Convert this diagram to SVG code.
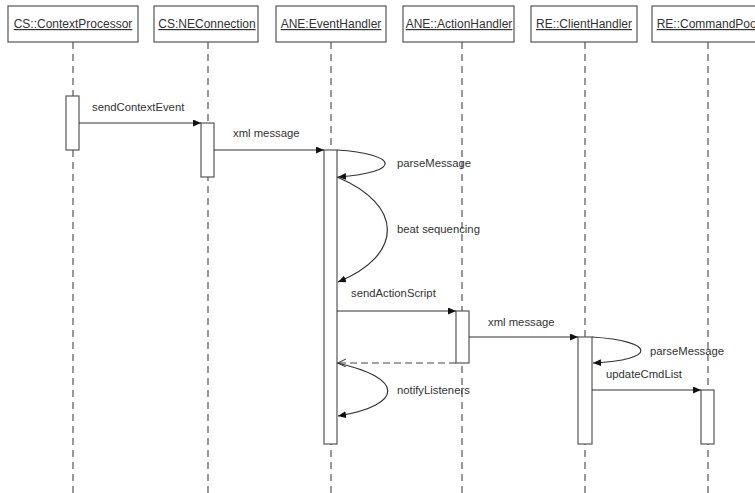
<svg xmlns="http://www.w3.org/2000/svg" width="755" height="493" viewBox="0 0 755 493">
  <style>
    .head rect { fill: #fff; stroke: #555; stroke-width: 1.2; }
    .head text { font-family: "Liberation Sans", Arial, sans-serif; font-size: 12px; fill: #333; text-anchor: middle; text-decoration: underline; }
    .life { stroke: #555; stroke-width: 1.2; stroke-dasharray: 7 5; fill: none; }
    .act { fill: #fff; stroke: #444; stroke-width: 1.2; }
    .msg { stroke: #333; stroke-width: 1.2; fill: none; }
    .ret { stroke: #444; stroke-width: 1.2; fill: none; stroke-dasharray: 7 4; }
    .lbl { font-family: "Liberation Sans", Arial, sans-serif; font-size: 11.3px; fill: #333; }
  </style>
  <defs>
    <marker id="filled" markerWidth="9" markerHeight="8" refX="8" refY="3.5" orient="auto" markerUnits="userSpaceOnUse">
      <path d="M0,0 L8,3.5 L0,7 z" fill="#111"/>
    </marker>
    <marker id="open" markerWidth="10" markerHeight="10" refX="8" refY="4" orient="auto" markerUnits="userSpaceOnUse">
      <path d="M0,0 L8,4 L0,8" fill="none" stroke="#444" stroke-width="1.1"/>
    </marker>
  </defs>
  <rect width="755" height="493" fill="#fff"/>

  <!-- lifelines -->
  <g id="lifelines">
    <line class="life" x1="73" y1="42" x2="73" y2="493"/>
    <line class="life" x1="208" y1="42" x2="208" y2="493"/>
    <line class="life" x1="331" y1="42" x2="331" y2="493"/>
    <line class="life" x1="462" y1="42" x2="462" y2="493"/>
    <line class="life" x1="585" y1="42" x2="585" y2="493"/>
    <line class="life" x1="708" y1="42" x2="708" y2="493"/>
  </g>

  <!-- participants -->
  <g id="cs-context-processor" class="head">
    <rect x="8" y="6" width="130" height="36"/>
    <text x="73" y="28">CS::ContextProcessor</text>
    <rect class="act" x="66" y="96" width="13" height="54"/>
  </g>
  <g id="cs-ne-connection" class="head">
    <rect x="154" y="6" width="104" height="36"/>
    <text x="207" y="28">CS:NEConnection</text>
    <rect class="act" x="201" y="123" width="13" height="54"/>
  </g>
  <g id="ane-event-handler" class="head">
    <rect x="276" y="6" width="110" height="36"/>
    <text x="331" y="28">ANE:EventHandler</text>
    <rect class="act" x="324" y="150" width="13" height="294"/>
  </g>
  <g id="ane-action-handler" class="head">
    <rect x="403" y="6" width="111" height="36"/>
    <text x="459" y="28">ANE::ActionHandler</text>
    <rect class="act" x="456" y="311" width="13" height="52"/>
  </g>
  <g id="re-client-handler" class="head">
    <rect x="531" y="6" width="106" height="36"/>
    <text x="584" y="28">RE::ClientHandler</text>
    <rect class="act" x="578" y="337" width="14" height="107"/>
  </g>
  <g id="re-command-pool" class="head">
    <rect x="652" y="6" width="112" height="36"/>
    <text x="708" y="28">RE::CommandPool</text>
    <rect class="act" x="701" y="390" width="13" height="54"/>
  </g>

  <!-- messages -->
  <g id="connectors">
    <line class="msg" x1="79" y1="123" x2="201" y2="123" marker-end="url(#filled)"/>
    <line class="msg" x1="214" y1="150" x2="324" y2="150" marker-end="url(#filled)"/>
    <path class="msg" d="M337,150 C398,154 404,172 338,177" marker-end="url(#filled)"/>
    <path class="msg" d="M337,177 C404,205 404,255 338,282" marker-end="url(#filled)"/>
    <line class="msg" x1="337" y1="311" x2="456" y2="311" marker-end="url(#filled)"/>
    <line class="msg" x1="469" y1="337" x2="578" y2="337" marker-end="url(#filled)"/>
    <line class="ret" x1="456" y1="363" x2="338" y2="363" marker-end="url(#open)"/>
    <path class="msg" d="M337,363 C405,378 404,405 338,416" marker-end="url(#filled)"/>
    <path class="msg" d="M592,337 C656,341 658,360 593,363" marker-end="url(#filled)"/>
    <line class="msg" x1="592" y1="390" x2="701" y2="390" marker-end="url(#filled)"/>
  </g>

  <!-- message labels -->
  <g id="labels">
    <text class="lbl" x="92" y="111">sendContextEvent</text>
    <text class="lbl" x="233" y="137">xml message</text>
    <text class="lbl" x="397" y="167">parseMessage</text>
    <text class="lbl" x="397" y="233">beat sequencing</text>
    <text class="lbl" x="351" y="297">sendActionScript</text>
    <text class="lbl" x="488" y="326">xml message</text>
    <text class="lbl" x="397" y="394">notifyListeners</text>
    <text class="lbl" x="650" y="355">parseMessage</text>
    <text class="lbl" x="606" y="378">updateCmdList</text>
  </g>
</svg>
